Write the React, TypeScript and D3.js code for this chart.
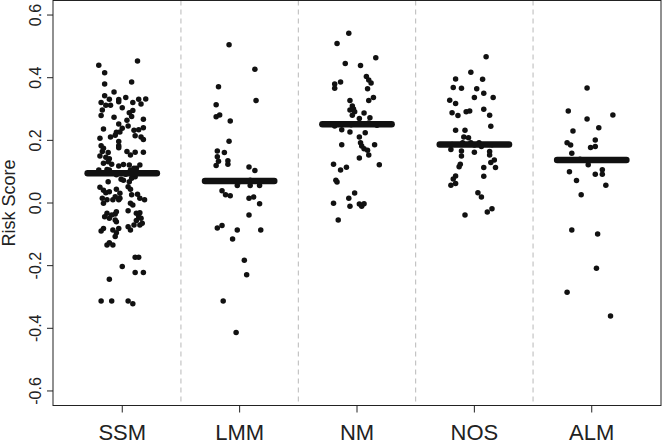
import React from "react";
import * as d3 from "d3";

const categories = ["SSM", "LMM", "NM", "NOS", "ALM"];
const medians = [0.095, 0.07, 0.251, 0.187, 0.137];
const yTicks = [-0.6, -0.4, -0.2, 0.0, 0.2, 0.4, 0.6];
const yTickLabels = ["-0.6", "-0.4", "-0.2", "0.0", "0.2", "0.4", "0.6"];
const yLabel = "Risk Score";

// [jitter offset (category units), risk score]
const ssmPoints: [number, number][] = [
  [-0.2, 0.44], [0.13, 0.453], [-0.15, 0.416], [-0.15, 0.38], [0.08, 0.386], [-0.07, 0.354],
  [-0.15, 0.342], [-0.11, 0.331], [-0.03, 0.33], [0.03, 0.337], [-0.18, 0.321], [-0.14, 0.312],
  [-0.1, 0.312], [-0.03, 0.323], [0.09, 0.321], [0.14, 0.331], [0.2, 0.332], [0.16, 0.316],
  [-0.17, 0.297], [0.0, 0.304], [0.06, 0.288], [0.09, 0.295], [-0.18, 0.279], [0.08, 0.276],
  [0.18, 0.267], [-0.07, 0.274], [-0.03, 0.252], [0.04, 0.264], [-0.16, 0.236], [0.0, 0.239],
  [0.05, 0.246], [0.1, 0.232], [0.14, 0.234], [0.18, 0.24], [-0.05, 0.226], [-0.02, 0.227],
  [-0.1, 0.211], [-0.06, 0.216], [-0.19, 0.207], [0.11, 0.215], [0.16, 0.211], [0.18, 0.203],
  [-0.03, 0.196], [-0.03, 0.183], [-0.03, 0.176], [-0.18, 0.183], [-0.16, 0.175], [-0.17, 0.164],
  [-0.12, 0.161], [0.04, 0.164], [0.07, 0.153], [0.11, 0.162], [0.18, 0.162], [-0.19, 0.15],
  [-0.14, 0.146], [-0.11, 0.141],
  [-0.12, 0.132], [-0.09, 0.124], [-0.16, 0.127], [-0.03, 0.118], [0.01, 0.123], [0.06, 0.121],
  [0.15, 0.121], [0.12, 0.111], [-0.2, 0.105], [-0.13, 0.107], [-0.11, 0.105], [0.07, 0.105],
  [0.1, 0.111], [0.11, 0.084], [0.08, 0.079], [0.06, 0.068], [-0.01, 0.076], [0.01, 0.073],
  [-0.12, 0.068], [-0.19, 0.05], [-0.16, 0.041], [-0.14, 0.033], [-0.11, 0.036], [-0.05, 0.044],
  [-0.02, 0.031], [-0.03, 0.01], [-0.06, 0.02], [0.05, 0.052], [0.07, 0.044], [0.08, 0.026],
  [0.13, 0.028], [-0.17, 0.015], [-0.13, 0.01], [-0.08, 0.01], [-0.02, 0.015], [0.07, -0.001],
  [0.15, 0.015], [0.19, 0.01], [-0.16, -0.001], [0.09, -0.006], [-0.13, -0.033], [-0.09, -0.038],
  [-0.06, -0.035], [-0.05, -0.028], [-0.15, -0.044], [-0.11, -0.049], [-0.06, -0.054], [0.05, -0.025],
  [0.12, -0.033], [0.15, -0.031], [0.14, -0.044], [0.12, -0.056], [0.16, -0.049], [0.17, -0.065],
  [-0.05, -0.06], [-0.03, -0.081], [-0.08, -0.086], [-0.16, -0.081], [-0.18, -0.089], [0.05, -0.076],
  [0.07, -0.086], [0.1, -0.07], [0.15, -0.07], [-0.05, -0.095], [-0.06, -0.107], [-0.13, -0.134],
  [-0.11, -0.127], [-0.08, -0.134], [0.11, -0.173], [0.14, -0.173], [0.0, -0.203], [0.11, -0.222],
  [0.18, -0.222], [-0.11, -0.243], [-0.18, -0.313], [-0.09, -0.313], [0.05, -0.313], [0.09, -0.322],
  [-0.18, 0.095], [-0.1, 0.097], [0.09, 0.093], [0.13, 0.098], [0.03, 0.092], [-0.05, 0.09],
];

const lmmPoints: [number, number][] = [
  [-0.09, 0.505], [0.13, 0.427], [-0.18, 0.371], [0.14, 0.327], [-0.2, 0.314], [-0.2, 0.275],
  [-0.17, 0.281], [-0.08, 0.262], [-0.09, 0.197], [-0.19, 0.166], [-0.13, 0.161], [-0.19, 0.148],
  [-0.18, 0.133], [-0.1, 0.135], [-0.1, 0.124], [-0.2, 0.12], [0.08, 0.115], [0.13, 0.104],
  [0.09, 0.073], [-0.02, 0.056], [0.09, 0.056], [0.17, 0.056], [-0.15, 0.039], [-0.12, 0.026],
  [-0.08, 0.023], [0.08, 0.015], [0.12, 0.019], [0.17, -0.002], [0.08, -0.038], [-0.19, -0.08],
  [-0.15, -0.072], [-0.02, -0.086], [0.18, -0.086], [-0.06, -0.115], [0.04, -0.183], [0.06, -0.229],
  [-0.14, -0.313], [-0.03, -0.413], [-0.05, 0.07], [0.0, 0.068],
];

const nmPoints: [number, number][] = [
  [-0.07, 0.542], [-0.17, 0.509], [0.16, 0.464], [-0.1, 0.445], [0.03, 0.439], [0.08, 0.404],
  [0.1, 0.393], [0.12, 0.383], [-0.14, 0.386], [-0.19, 0.38], [-0.19, 0.366], [0.09, 0.365],
  [0.14, 0.337], [0.1, 0.327], [-0.06, 0.327], [-0.04, 0.31], [-0.06, 0.297], [-0.03, 0.3],
  [-0.02, 0.291], [0.06, 0.287], [-0.04, 0.28], [0.02, 0.27], [0.11, 0.272], [-0.19, 0.246],
  [-0.13, 0.234], [-0.06, 0.227], [0.07, 0.224], [0.02, 0.211], [-0.13, 0.186], [0.03, 0.192],
  [0.04, 0.182], [0.15, 0.186], [0.06, 0.173], [0.09, 0.168], [0.1, 0.153], [0.02, 0.144],
  [-0.2, 0.124], [-0.09, 0.114], [-0.14, 0.105], [0.19, 0.122], [-0.18, 0.073], [-0.17, 0.067],
  [-0.02, 0.032], [-0.07, 0.015], [-0.2, -0.001], [-0.06, -0.01], [0.02, -0.003], [0.04, -0.01],
  [0.06, -0.002], [-0.16, -0.054], [-0.17, 0.252], [-0.05, 0.25], [0.1, 0.255], [0.17, 0.248],
];

const nosPoints: [number, number][] = [
  [0.1, 0.467], [-0.03, 0.417], [-0.16, 0.396], [0.07, 0.395], [-0.18, 0.369], [-0.11, 0.366],
  [0.02, 0.365], [0.08, 0.35], [0.0, 0.337], [0.16, 0.337], [-0.21, 0.328], [-0.16, 0.318],
  [-0.07, 0.291], [-0.04, 0.294], [0.08, 0.299], [-0.19, 0.288], [-0.14, 0.279], [0.13, 0.28],
  [0.14, 0.245], [-0.16, 0.232], [-0.08, 0.232], [-0.09, 0.211], [-0.05, 0.208], [-0.1, 0.192],
  [-0.03, 0.192], [0.04, 0.192], [0.06, 0.18], [-0.2, 0.171], [-0.11, 0.166], [0.0, 0.162],
  [0.13, 0.164], [0.13, 0.153], [-0.11, 0.15], [0.17, 0.137], [0.14, 0.129], [-0.12, 0.124],
  [-0.13, 0.116], [0.18, 0.113], [0.08, 0.113], [-0.16, 0.086], [-0.18, 0.077], [0.08, 0.085],
  [-0.16, 0.062], [-0.2, 0.057], [0.03, 0.033], [0.06, 0.019], [-0.08, -0.038], [0.11, -0.029],
  [0.15, -0.018], [-0.19, 0.187], [0.15, 0.186], [0.0, 0.185],
];

const almPoints: [number, number][] = [
  [-0.04, 0.367], [-0.2, 0.294], [0.18, 0.281], [-0.04, 0.268], [0.06, 0.24], [-0.16, 0.23],
  [0.03, 0.201], [-0.21, 0.192], [-0.18, 0.185], [-0.01, 0.177], [0.03, 0.18], [-0.17, 0.159],
  [-0.03, 0.122], [-0.19, 0.1], [0.09, 0.106], [0.03, 0.092], [0.09, 0.092], [-0.13, 0.072],
  [0.12, 0.057], [-0.09, 0.026], [-0.17, -0.086], [0.05, -0.099], [0.04, -0.208], [-0.21, -0.285],
  [0.16, -0.361], [-0.1, 0.14], [0.08, 0.137],
];

const groups = [ssmPoints, lmmPoints, nmPoints, nosPoints, almPoints];

const W = 662;
const H = 444;
const left = 53;
const right = 661;
const top = 0.5;
const bottom = 405.5;
const FONT = "'Liberation Sans', Arial, Helvetica, sans-serif";

export default function App() {
  const x = d3.scaleLinear().domain([0.41, 5.59]).range([left, right]);
  const y = d3.scaleLinear().domain([-0.648, 0.648]).range([406, 0]);
  const seps = d3.range(1.5, categories.length, 1);

  return (
    <svg
      width={W}
      height={H}
      style={{ position: "absolute", left: 0, top: 0, background: "#fff" }}
    >
      {seps.map((s) => (
        <line
          key={"sep" + s}
          x1={x(s)}
          x2={x(s)}
          y1={top}
          y2={bottom}
          stroke="#b8b8b8"
          strokeWidth={1}
          strokeDasharray="5,4"
        />
      ))}
      {groups.map((pts, gi) =>
        pts.map((p, i) => (
          <circle
            key={gi + "-" + i}
            cx={x(gi + 1 + p[0])}
            cy={y(p[1])}
            r={2.75}
            fill="#111"
          />
        ))
      )}
      {medians.map((m, i) => (
        <line
          key={"med" + i}
          x1={x(i + 1 - 0.295)}
          x2={x(i + 1 + 0.295)}
          y1={y(m)}
          y2={y(m)}
          stroke="#111"
          strokeWidth={6.5}
          strokeLinecap="round"
        />
      ))}
      <rect
        x={left}
        y={top}
        width={right - left}
        height={bottom - top}
        fill="none"
        stroke="#222"
        strokeWidth={1}
      />
      {yTicks.map((t, i) => (
        <g key={"yt" + i}>
          <line x1={left - 6} x2={left} y1={y(t)} y2={y(t)} stroke="#222" />
          <text
            transform={`translate(${41},${y(t)}) rotate(-90)`}
            textAnchor="middle"
            fontFamily={FONT}
            fontSize={16}
            fill="#222"
          >
            {yTickLabels[i]}
          </text>
        </g>
      ))}
      {categories.map((c, i) => (
        <g key={"xt" + i}>
          <line x1={x(i + 1)} x2={x(i + 1)} y1={bottom} y2={bottom + 7} stroke="#222" />
          <text
            x={x(i + 1)}
            y={440}
            textAnchor="middle"
            fontFamily={FONT}
            fontSize={22}
            fill="#222"
          >
            {c}
          </text>
        </g>
      ))}
      <text
        transform={`translate(${15},${y(0)}) rotate(-90)`}
        textAnchor="middle"
        fontFamily={FONT}
        fontSize={18}
        fill="#222"
      >
        {yLabel}
      </text>
    </svg>
  );
}
